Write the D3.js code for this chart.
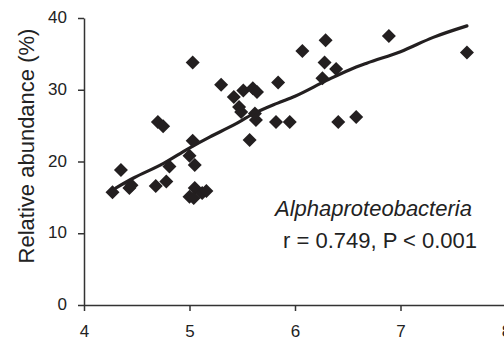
<!DOCTYPE html>
<html>
<head>
<meta charset="utf-8">
<script src="https://cdn.jsdelivr.net/npm/d3@7"></script>
<style>
  body { margin: 0; background: #fff; }
  text { font-family: "Liberation Sans", Arial, sans-serif; fill: #222; }
</style>
</head>
<body>
<script>
// measured points (pH vs relative abundance)
var xVals = [4.27, 4.35, 4.43, 4.45, 4.68, 4.70, 4.75, 4.78, 4.81,
             5.00, 5.03, 5.03, 5.05, 5.00, 5.05, 5.04, 5.12, 5.16,
             5.30, 5.42, 5.47, 5.49, 5.51, 5.60, 5.64, 5.57, 5.62, 5.63,
             5.82, 5.84, 5.95, 6.07, 6.26, 6.28, 6.29, 6.39, 6.41, 6.58,
             6.89, 7.63];
var yVals = [15.7, 18.8, 16.3, 16.7, 16.6, 25.5, 24.9, 17.2, 19.3,
             20.8, 22.9, 33.8, 19.5, 15.1, 16.3, 14.9, 15.6, 15.9,
             30.7, 29.0, 27.6, 26.9, 29.9, 30.2, 29.7, 23.0, 26.7, 25.8,
             25.5, 31.0, 25.5, 35.4, 31.6, 33.8, 36.9, 32.9, 25.5, 26.2,
             37.5, 35.2];

// trend line
var fitX = [4.30, 4.47, 4.75, 4.99, 5.19, 5.42, 5.60, 5.83, 6.00, 6.30, 6.52, 6.68, 7.00, 7.31, 7.63];
var fitY = [16.3, 17.7, 19.7, 21.8, 23.4, 25.1, 26.6, 28.1, 29.1, 31.3, 32.8, 33.7, 35.3, 37.3, 38.9];

var xTicks = [4, 5, 6, 7, 8];
var yTicks = [0, 10, 20, 30, 40];

var width = 504,
    height = 340;

var x = d3.scaleLinear().domain([4, 8]).range([84, 506]);
var y = d3.scaleLinear().domain([0, 40]).range([305, 18]);

var svg = d3.select("body")
    .append("svg")
    .attr("width", width)
    .attr("height", height);

// axes
var xAxis = svg.append("g")
    .attr("transform", "translate(0,305)")
    .call(d3.axisBottom(x).tickValues(xTicks).tickFormat(d3.format("d"))
        .tickSize(6).tickSizeOuter(0).tickPadding(14));

var yAxis = svg.append("g")
    .attr("transform", "translate(84,0)")
    .call(d3.axisLeft(y).tickValues(yTicks).tickFormat(d3.format("d"))
        .tickSize(6).tickSizeOuter(0).tickPadding(11));

svg.selectAll(".domain, .tick line")
    .attr("stroke", "#333")
    .attr("stroke-width", 1.5);

svg.selectAll(".tick text")
    .style("font-family", "Liberation Sans, Arial, sans-serif")
    .style("font-size", "17px")
    .attr("fill", "#222");

yAxis.selectAll(".tick text").attr("dy", "0.27em");

// axis title
svg.append("text")
    .attr("transform", "translate(34,146) rotate(-90)")
    .attr("text-anchor", "middle")
    .style("font-size", "22px")
    .text("Relative abundance (%)");

// trend line
var fitData = fitX.map(function(d, i) { return [d, fitY[i]]; });
var line = d3.line()
    .x(function(d) { return x(d[0]); })
    .y(function(d) { return y(d[1]); })
    .curve(d3.curveMonotoneX);

svg.append("path")
    .datum(fitData)
    .attr("d", line)
    .attr("fill", "none")
    .attr("stroke", "#231f20")
    .attr("stroke-width", 3.2)
    .attr("stroke-linecap", "round");

// points (diamonds)
var pts = xVals.map(function(d, i) { return [d, yVals[i]]; });
var diamond = d3.symbol().type(d3.symbolSquare).size(98);

svg.selectAll(".pt")
    .data(pts)
    .enter().append("path")
    .attr("class", "pt")
    .attr("d", diamond)
    .attr("transform", function(d) {
        return "translate(" + x(d[0]) + "," + y(d[1]) + ") rotate(45)";
    })
    .attr("fill", "#231f20");

// annotation
svg.append("text")
    .attr("x", 275)
    .attr("y", 216)
    .style("font-size", "22px")
    .style("font-style", "italic")
    .text("Alphaproteobacteria");

svg.append("text")
    .attr("x", 283)
    .attr("y", 248)
    .style("font-size", "22px")
    .text("r = 0.749, P < 0.001");
</script>
</body>
</html>
